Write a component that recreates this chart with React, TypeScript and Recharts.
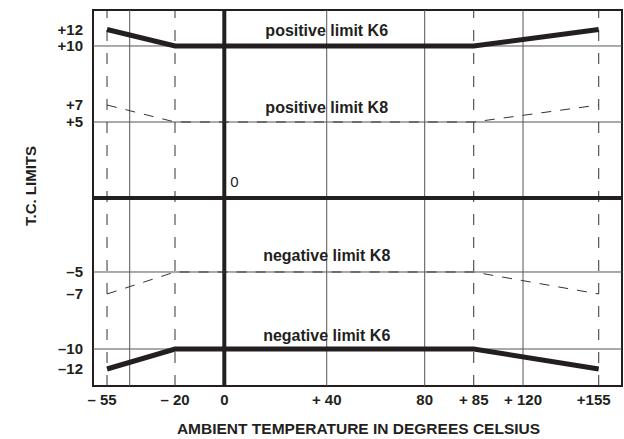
import { LineChart, Line, XAxis, YAxis, ReferenceLine, ReferenceArea, ReferenceDot } from 'recharts';

// temperature break points of the limit curves
const temps = [-55, -20, 85, 155];
const posK6 = [12, 10, 10, 12];
const posK8 = [7, 5, 5, 7];
const negK8 = [-7, -5, -5, -7];
const negK6 = [-12, -10, -10, -12];

const xTicks = [-55, -20, 0, 40, 80, 85, 120, 155];
const xTickLabels = ['– 55', '– 20', '0', '+ 40', '80', '+ 85', '+ 120', '+155'];
const yTicks = [12, 10, 7, 5, -5, -7, -10, -12];
const yTickLabels = ['+12', '+10', '+7', '+5', '–5', '–7', '–10', '–12'];

const solidGridX = [-40, 40, 80, 120];
const dashedGridX = [-55, -20, 85, 155];
const gridY = [10, 5, -5, -10];

const xDomain = [-70, 160];
const yDomain = [-13, 13];

const curveLabels = [
  { text: 'positive limit K6', y: 10, offset: 10 },
  { text: 'positive limit K8', y: 5, offset: 9 },
  { text: 'negative limit K8', y: -5, offset: 11 },
  { text: 'negative limit K6', y: -10, offset: 8 },
];

const data = temps.map((t, i) => ({
  t,
  posK6: posK6[i],
  posK8: posK8[i],
  negK8: negK8[i],
  negK6: negK6[i],
}));

// the original drawing is schematic, not to scale: each axis is piecewise linear.
// pairs are [value, fraction of the axis length]
const X_KNOTS: [number, number][] = [
  [-70, 0], [-55, 0.0265], [-40, 0.0694], [-20, 0.155], [0, 0.2482], [40, 0.4418],
  [80, 0.627], [85, 0.7197], [120, 0.8129], [155, 0.956], [160, 1],
];
const Y_KNOTS: [number, number][] = [
  [-13, 0], [-12, 0.0452], [-10, 0.0984], [-7, 0.2447], [-5, 0.3032], [0, 0.5],
  [5, 0.7021], [7, 0.7473], [10, 0.9043], [12, 0.9481], [13, 1],
];

function piecewiseScale(knots: [number, number][]): any {
  let dom = [knots[0][0], knots[knots.length - 1][0]];
  let rng = [0, 1];
  const frac = (v: number) => {
    if (v <= knots[0][0]) return knots[0][1];
    for (let i = 1; i < knots.length; i++) {
      const [v1, f1] = knots[i];
      if (v <= v1) {
        const [v0, f0] = knots[i - 1];
        return f0 + ((v - v0) / (v1 - v0)) * (f1 - f0);
      }
    }
    return knots[knots.length - 1][1];
  };
  const scale: any = (v: number) => rng[0] + frac(Number(v)) * (rng[1] - rng[0]);
  scale.domain = (d?: number[]) => {
    if (d === undefined) return dom.slice();
    dom = d.slice();
    return scale;
  };
  scale.range = (r?: number[]) => {
    if (r === undefined) return rng.slice();
    rng = r.slice();
    return scale;
  };
  scale.ticks = () => knots.map((k) => k[0]);
  scale.copy = () => piecewiseScale(knots).domain(dom).range(rng);
  return scale;
}

const INK = '#231f20';
const GRID = '#555';
const FONT = '"Liberation Sans", Arial, Helvetica, sans-serif';

// end labels sit a little left of their dashed line in the original
function XTick(props: any) {
  const { x, y, payload } = props;
  const v = payload.value;
  const shift = v === -55 || v === 155 ? -5 : 0;
  return (
    <text x={x + shift} y={y} dy={11} textAnchor="middle" fill={INK} fontSize={15} fontWeight="bold">
      {xTickLabels[xTicks.indexOf(v)] ?? ''}
    </text>
  );
}

export default function App() {
  return (
    <div style={{ position: 'absolute', left: 0, top: 0, fontFamily: FONT }}>
      <LineChart width={624} height={439} data={data} margin={{ top: 10, right: 2, bottom: 0, left: 0 }}>
        <XAxis
          dataKey="t"
          type="number"
          domain={xDomain}
          scale={piecewiseScale(X_KNOTS)}
          ticks={xTicks}
          interval={0}
          axisLine={false}
          tickLine={false}
          height={53}
          tick={<XTick />}
          label={{
            value: 'AMBIENT TEMPERATURE IN DEGREES CELSIUS',
            position: 'insideBottom',
            offset: 5,
            dx: 1,
            fill: INK,
            fontSize: 15.5,
            fontWeight: 'bold',
          }}
        />
        <YAxis
          type="number"
          domain={yDomain}
          scale={piecewiseScale(Y_KNOTS)}
          ticks={yTicks}
          interval={0}
          tickFormatter={(v: number) => yTickLabels[yTicks.indexOf(v)] ?? ''}
          axisLine={false}
          tickLine={false}
          tickMargin={4}
          width={93}
          tick={{ fill: INK, fontSize: 15, fontWeight: 'bold' }}
          label={{
            value: 'T.C. LIMITS',
            angle: -90,
            position: 'center',
            dx: -16,
            dy: -12,
            fill: INK,
            fontSize: 15,
            fontWeight: 'bold',
          }}
        />

        {gridY.map((v) => (
          <ReferenceLine key={'gy' + v} y={v} stroke={GRID} strokeWidth={1} />
        ))}
        {solidGridX.map((v) => (
          <ReferenceLine key={'gx' + v} x={v} stroke={GRID} strokeWidth={1} />
        ))}
        {dashedGridX.map((v) => (
          <ReferenceLine key={'dx' + v} x={v} stroke="#333" strokeWidth={1} strokeDasharray="11 12" />
        ))}
        <ReferenceLine y={0} stroke={INK} strokeWidth={4} />
        <ReferenceLine x={0} stroke={INK} strokeWidth={4} />
        <ReferenceArea
          x1={xDomain[0]}
          x2={xDomain[1]}
          y1={yDomain[0]}
          y2={yDomain[1]}
          fill="none"
          fillOpacity={0}
          stroke={INK}
          strokeWidth={2}
        />

        <Line dataKey="posK6" stroke={INK} strokeWidth={5} dot={false} isAnimationActive={false} />
        <Line dataKey="negK6" stroke={INK} strokeWidth={5} dot={false} isAnimationActive={false} />
        <Line dataKey="posK8" stroke="#333" strokeWidth={1} strokeDasharray="10 9" dot={false} isAnimationActive={false} />
        <Line dataKey="negK8" stroke="#333" strokeWidth={1} strokeDasharray="10 9" dot={false} isAnimationActive={false} />

        {curveLabels.map((c) => (
          <ReferenceDot
            key={c.text}
            x={40}
            y={c.y}
            r={0}
            fill="none"
            stroke="none"
            label={{ value: c.text, position: 'top', offset: c.offset, fill: INK, fontSize: 16, fontWeight: 'bold' }}
          />
        ))}
        <ReferenceDot
          x={0}
          y={0}
          r={0}
          fill="none"
          stroke="none"
          label={{ value: '0', position: 'top', offset: 11, dx: 10, fill: INK, fontSize: 15 }}
        />
      </LineChart>
    </div>
  );
}
